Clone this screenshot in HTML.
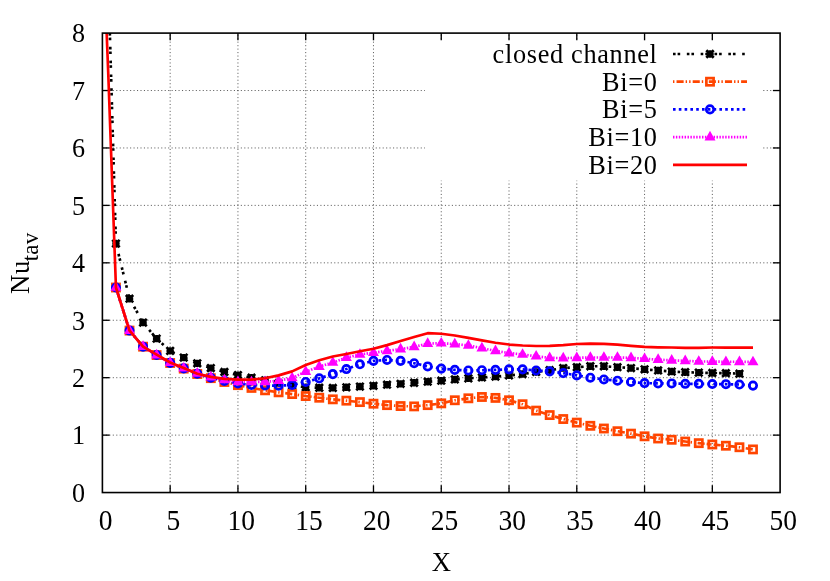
<!DOCTYPE html>
<html><head><meta charset="utf-8"><title>Nu tav vs X</title>
<style>html,body{margin:0;padding:0;background:#fff;}svg{display:block;will-change:transform;}</style>
</head><body>
<svg width="830" height="581" viewBox="0 0 830 581">
<rect width="830" height="581" fill="#fff"/>
<g stroke="#000" stroke-opacity="0.62" stroke-width="1" stroke-dasharray="1.1 2.36" fill="none">
<line x1="170.17" y1="492.55" x2="170.17" y2="33.10"/>
<line x1="237.94" y1="492.55" x2="237.94" y2="33.10"/>
<line x1="305.71" y1="492.55" x2="305.71" y2="33.10"/>
<line x1="373.48" y1="492.55" x2="373.48" y2="33.10"/>
<line x1="441.25" y1="492.55" x2="441.25" y2="33.10"/>
<line x1="509.02" y1="492.55" x2="509.02" y2="33.10"/>
<line x1="576.79" y1="492.55" x2="576.79" y2="33.10"/>
<line x1="644.56" y1="492.55" x2="644.56" y2="33.10"/>
<line x1="712.33" y1="492.55" x2="712.33" y2="33.10"/>
<line x1="102.40" y1="435.12" x2="780.10" y2="435.12"/>
<line x1="102.40" y1="377.69" x2="780.10" y2="377.69"/>
<line x1="102.40" y1="320.26" x2="780.10" y2="320.26"/>
<line x1="102.40" y1="262.83" x2="780.10" y2="262.83"/>
<line x1="102.40" y1="205.39" x2="780.10" y2="205.39"/>
<line x1="102.40" y1="147.96" x2="780.10" y2="147.96"/>
<line x1="102.40" y1="90.53" x2="780.10" y2="90.53"/>
</g>
<rect x="425" y="41" width="337.7" height="139.6" fill="#fff"/>
<g stroke="#000" stroke-width="1.33" fill="none">
<line x1="170.17" y1="492.55" x2="170.17" y2="485.35"/>
<line x1="170.17" y1="33.10" x2="170.17" y2="40.30"/>
<line x1="237.94" y1="492.55" x2="237.94" y2="485.35"/>
<line x1="237.94" y1="33.10" x2="237.94" y2="40.30"/>
<line x1="305.71" y1="492.55" x2="305.71" y2="485.35"/>
<line x1="305.71" y1="33.10" x2="305.71" y2="40.30"/>
<line x1="373.48" y1="492.55" x2="373.48" y2="485.35"/>
<line x1="373.48" y1="33.10" x2="373.48" y2="40.30"/>
<line x1="441.25" y1="492.55" x2="441.25" y2="485.35"/>
<line x1="441.25" y1="33.10" x2="441.25" y2="40.30"/>
<line x1="509.02" y1="492.55" x2="509.02" y2="485.35"/>
<line x1="509.02" y1="33.10" x2="509.02" y2="40.30"/>
<line x1="576.79" y1="492.55" x2="576.79" y2="485.35"/>
<line x1="576.79" y1="33.10" x2="576.79" y2="40.30"/>
<line x1="644.56" y1="492.55" x2="644.56" y2="485.35"/>
<line x1="644.56" y1="33.10" x2="644.56" y2="40.30"/>
<line x1="712.33" y1="492.55" x2="712.33" y2="485.35"/>
<line x1="712.33" y1="33.10" x2="712.33" y2="40.30"/>
<line x1="102.40" y1="435.12" x2="109.60" y2="435.12"/>
<line x1="780.10" y1="435.12" x2="772.90" y2="435.12"/>
<line x1="102.40" y1="377.69" x2="109.60" y2="377.69"/>
<line x1="780.10" y1="377.69" x2="772.90" y2="377.69"/>
<line x1="102.40" y1="320.26" x2="109.60" y2="320.26"/>
<line x1="780.10" y1="320.26" x2="772.90" y2="320.26"/>
<line x1="102.40" y1="262.83" x2="109.60" y2="262.83"/>
<line x1="780.10" y1="262.83" x2="772.90" y2="262.83"/>
<line x1="102.40" y1="205.39" x2="109.60" y2="205.39"/>
<line x1="780.10" y1="205.39" x2="772.90" y2="205.39"/>
<line x1="102.40" y1="147.96" x2="109.60" y2="147.96"/>
<line x1="780.10" y1="147.96" x2="772.90" y2="147.96"/>
<line x1="102.40" y1="90.53" x2="109.60" y2="90.53"/>
<line x1="780.10" y1="90.53" x2="772.90" y2="90.53"/>
</g>
<defs><clipPath id="c"><rect x="102.40" y="33.10" width="677.70" height="459.45"/></clipPath></defs>
<g clip-path="url(#c)"><polyline points="108.10,-26.90 115.95,243.53 129.51,298.72 143.06,322.55 156.62,338.63 170.17,350.87 183.72,357.59 197.28,363.33 210.83,368.10 224.39,371.94 237.94,375.10 251.49,377.69 265.05,380.27 278.60,383.14 292.16,385.44 305.71,387.28 319.26,387.74 332.82,387.91 346.37,387.28 359.93,386.53 373.48,385.79 387.03,384.69 400.59,383.83 414.14,382.74 427.70,381.71 441.25,380.73 454.80,379.47 468.36,378.38 481.91,377.46 495.47,376.54 509.02,375.39 522.57,374.07 536.13,371.94 549.68,370.22 563.24,368.10 576.79,367.18 590.34,366.26 603.90,366.26 617.45,367.18 631.01,368.10 644.56,369.36 658.11,370.45 671.67,371.54 685.22,372.23 698.78,372.63 712.33,372.98 725.88,373.15 739.44,373.67" fill="none" stroke="#000" stroke-width="2.67" stroke-dasharray="2.6 2.0 2.6 6.633" stroke-dashoffset="9.24" stroke-linejoin="round"/><path d="M112.25,243.53H119.65M115.95,239.83V247.23M112.25,239.83L119.65,247.23M112.25,247.23L119.65,239.83" stroke="#000" stroke-width="2.67" fill="none"/><path d="M125.81,298.72H133.21M129.51,295.02V302.42M125.81,295.02L133.21,302.42M125.81,302.42L133.21,295.02" stroke="#000" stroke-width="2.67" fill="none"/><path d="M139.36,322.55H146.76M143.06,318.85V326.25M139.36,318.85L146.76,326.25M139.36,326.25L146.76,318.85" stroke="#000" stroke-width="2.67" fill="none"/><path d="M152.92,338.63H160.32M156.62,334.93V342.33M152.92,334.93L160.32,342.33M152.92,342.33L160.32,334.93" stroke="#000" stroke-width="2.67" fill="none"/><path d="M166.47,350.87H173.87M170.17,347.17V354.57M166.47,347.17L173.87,354.57M166.47,354.57L173.87,347.17" stroke="#000" stroke-width="2.67" fill="none"/><path d="M180.02,357.59H187.42M183.72,353.89V361.29M180.02,353.89L187.42,361.29M180.02,361.29L187.42,353.89" stroke="#000" stroke-width="2.67" fill="none"/><path d="M193.58,363.33H200.98M197.28,359.63V367.03M193.58,359.63L200.98,367.03M193.58,367.03L200.98,359.63" stroke="#000" stroke-width="2.67" fill="none"/><path d="M207.13,368.10H214.53M210.83,364.40V371.80M207.13,364.40L214.53,371.80M207.13,371.80L214.53,364.40" stroke="#000" stroke-width="2.67" fill="none"/><path d="M220.69,371.94H228.09M224.39,368.24V375.64M220.69,368.24L228.09,375.64M220.69,375.64L228.09,368.24" stroke="#000" stroke-width="2.67" fill="none"/><path d="M234.24,375.10H241.64M237.94,371.40V378.80M234.24,371.40L241.64,378.80M234.24,378.80L241.64,371.40" stroke="#000" stroke-width="2.67" fill="none"/><path d="M247.79,377.69H255.19M251.49,373.99V381.39M247.79,373.99L255.19,381.39M247.79,381.39L255.19,373.99" stroke="#000" stroke-width="2.67" fill="none"/><path d="M261.35,380.27H268.75M265.05,376.57V383.97M261.35,376.57L268.75,383.97M261.35,383.97L268.75,376.57" stroke="#000" stroke-width="2.67" fill="none"/><path d="M274.90,383.14H282.30M278.60,379.44V386.84M274.90,379.44L282.30,386.84M274.90,386.84L282.30,379.44" stroke="#000" stroke-width="2.67" fill="none"/><path d="M288.46,385.44H295.86M292.16,381.74V389.14M288.46,381.74L295.86,389.14M288.46,389.14L295.86,381.74" stroke="#000" stroke-width="2.67" fill="none"/><path d="M302.01,387.28H309.41M305.71,383.58V390.98M302.01,383.58L309.41,390.98M302.01,390.98L309.41,383.58" stroke="#000" stroke-width="2.67" fill="none"/><path d="M315.56,387.74H322.96M319.26,384.04V391.44M315.56,384.04L322.96,391.44M315.56,391.44L322.96,384.04" stroke="#000" stroke-width="2.67" fill="none"/><path d="M329.12,387.91H336.52M332.82,384.21V391.61M329.12,384.21L336.52,391.61M329.12,391.61L336.52,384.21" stroke="#000" stroke-width="2.67" fill="none"/><path d="M342.67,387.28H350.07M346.37,383.58V390.98M342.67,383.58L350.07,390.98M342.67,390.98L350.07,383.58" stroke="#000" stroke-width="2.67" fill="none"/><path d="M356.23,386.53H363.63M359.93,382.83V390.23M356.23,382.83L363.63,390.23M356.23,390.23L363.63,382.83" stroke="#000" stroke-width="2.67" fill="none"/><path d="M369.78,385.79H377.18M373.48,382.09V389.49M369.78,382.09L377.18,389.49M369.78,389.49L377.18,382.09" stroke="#000" stroke-width="2.67" fill="none"/><path d="M383.33,384.69H390.73M387.03,380.99V388.39M383.33,380.99L390.73,388.39M383.33,388.39L390.73,380.99" stroke="#000" stroke-width="2.67" fill="none"/><path d="M396.89,383.83H404.29M400.59,380.13V387.53M396.89,380.13L404.29,387.53M396.89,387.53L404.29,380.13" stroke="#000" stroke-width="2.67" fill="none"/><path d="M410.44,382.74H417.84M414.14,379.04V386.44M410.44,379.04L417.84,386.44M410.44,386.44L417.84,379.04" stroke="#000" stroke-width="2.67" fill="none"/><path d="M424.00,381.71H431.40M427.70,378.01V385.41M424.00,378.01L431.40,385.41M424.00,385.41L431.40,378.01" stroke="#000" stroke-width="2.67" fill="none"/><path d="M437.55,380.73H444.95M441.25,377.03V384.43M437.55,377.03L444.95,384.43M437.55,384.43L444.95,377.03" stroke="#000" stroke-width="2.67" fill="none"/><path d="M451.10,379.47H458.50M454.80,375.77V383.17M451.10,375.77L458.50,383.17M451.10,383.17L458.50,375.77" stroke="#000" stroke-width="2.67" fill="none"/><path d="M464.66,378.38H472.06M468.36,374.68V382.08M464.66,374.68L472.06,382.08M464.66,382.08L472.06,374.68" stroke="#000" stroke-width="2.67" fill="none"/><path d="M478.21,377.46H485.61M481.91,373.76V381.16M478.21,373.76L485.61,381.16M478.21,381.16L485.61,373.76" stroke="#000" stroke-width="2.67" fill="none"/><path d="M491.77,376.54H499.17M495.47,372.84V380.24M491.77,372.84L499.17,380.24M491.77,380.24L499.17,372.84" stroke="#000" stroke-width="2.67" fill="none"/><path d="M505.32,375.39H512.72M509.02,371.69V379.09M505.32,371.69L512.72,379.09M505.32,379.09L512.72,371.69" stroke="#000" stroke-width="2.67" fill="none"/><path d="M518.87,374.07H526.27M522.57,370.37V377.77M518.87,370.37L526.27,377.77M518.87,377.77L526.27,370.37" stroke="#000" stroke-width="2.67" fill="none"/><path d="M532.43,371.94H539.83M536.13,368.24V375.64M532.43,368.24L539.83,375.64M532.43,375.64L539.83,368.24" stroke="#000" stroke-width="2.67" fill="none"/><path d="M545.98,370.22H553.38M549.68,366.52V373.92M545.98,366.52L553.38,373.92M545.98,373.92L553.38,366.52" stroke="#000" stroke-width="2.67" fill="none"/><path d="M559.54,368.10H566.94M563.24,364.40V371.80M559.54,364.40L566.94,371.80M559.54,371.80L566.94,364.40" stroke="#000" stroke-width="2.67" fill="none"/><path d="M573.09,367.18H580.49M576.79,363.48V370.88M573.09,363.48L580.49,370.88M573.09,370.88L580.49,363.48" stroke="#000" stroke-width="2.67" fill="none"/><path d="M586.64,366.26H594.04M590.34,362.56V369.96M586.64,362.56L594.04,369.96M586.64,369.96L594.04,362.56" stroke="#000" stroke-width="2.67" fill="none"/><path d="M600.20,366.26H607.60M603.90,362.56V369.96M600.20,362.56L607.60,369.96M600.20,369.96L607.60,362.56" stroke="#000" stroke-width="2.67" fill="none"/><path d="M613.75,367.18H621.15M617.45,363.48V370.88M613.75,363.48L621.15,370.88M613.75,370.88L621.15,363.48" stroke="#000" stroke-width="2.67" fill="none"/><path d="M627.31,368.10H634.71M631.01,364.40V371.80M627.31,364.40L634.71,371.80M627.31,371.80L634.71,364.40" stroke="#000" stroke-width="2.67" fill="none"/><path d="M640.86,369.36H648.26M644.56,365.66V373.06M640.86,365.66L648.26,373.06M640.86,373.06L648.26,365.66" stroke="#000" stroke-width="2.67" fill="none"/><path d="M654.41,370.45H661.81M658.11,366.75V374.15M654.41,366.75L661.81,374.15M654.41,374.15L661.81,366.75" stroke="#000" stroke-width="2.67" fill="none"/><path d="M667.97,371.54H675.37M671.67,367.84V375.24M667.97,367.84L675.37,375.24M667.97,375.24L675.37,367.84" stroke="#000" stroke-width="2.67" fill="none"/><path d="M681.52,372.23H688.92M685.22,368.53V375.93M681.52,368.53L688.92,375.93M681.52,375.93L688.92,368.53" stroke="#000" stroke-width="2.67" fill="none"/><path d="M695.08,372.63H702.48M698.78,368.93V376.33M695.08,368.93L702.48,376.33M695.08,376.33L702.48,368.93" stroke="#000" stroke-width="2.67" fill="none"/><path d="M708.63,372.98H716.03M712.33,369.28V376.68M708.63,369.28L716.03,376.68M708.63,376.68L716.03,369.28" stroke="#000" stroke-width="2.67" fill="none"/><path d="M722.18,373.15H729.58M725.88,369.45V376.85M722.18,369.45L729.58,376.85M722.18,376.85L729.58,369.45" stroke="#000" stroke-width="2.67" fill="none"/><path d="M735.74,373.67H743.14M739.44,369.97V377.37M735.74,369.97L743.14,377.37M735.74,377.37L743.14,369.97" stroke="#000" stroke-width="2.67" fill="none"/></g>
<g clip-path="url(#c)"><polyline points="115.95,287.52 129.51,330.59 143.06,346.67 156.62,355.06 170.17,362.99 183.72,368.61 197.28,374.01 210.83,378.15 224.39,381.99 237.94,385.15 251.49,387.91 265.05,390.32 278.60,392.33 292.16,394.06 305.71,396.07 319.26,397.73 332.82,399.34 346.37,400.66 359.93,402.10 373.48,403.70 387.03,405.14 400.59,406.06 414.14,406.40 427.70,405.14 441.25,403.36 454.80,400.26 468.36,398.31 481.91,396.98 495.47,397.90 509.02,400.26 522.57,404.22 536.13,410.60 549.68,415.08 563.24,419.04 576.79,422.60 590.34,425.81 603.90,428.51 617.45,431.21 631.01,433.63 644.56,436.32 658.11,438.51 671.67,439.77 685.22,441.55 698.78,443.16 712.33,444.48 725.88,445.74 739.44,447.24 752.99,449.42" fill="none" stroke="#ff4500" stroke-width="2.67" stroke-dasharray="7.1 2.0 1.4 2.1 1.4 2.14" stroke-dashoffset="8.72" stroke-linejoin="round"/><rect x="112.35" y="283.92" width="7.20" height="7.20" stroke="#ff4500" stroke-width="2.67" fill="none"/><rect x="125.91" y="326.99" width="7.20" height="7.20" stroke="#ff4500" stroke-width="2.67" fill="none"/><rect x="139.46" y="343.07" width="7.20" height="7.20" stroke="#ff4500" stroke-width="2.67" fill="none"/><rect x="153.02" y="351.46" width="7.20" height="7.20" stroke="#ff4500" stroke-width="2.67" fill="none"/><rect x="166.57" y="359.39" width="7.20" height="7.20" stroke="#ff4500" stroke-width="2.67" fill="none"/><rect x="180.12" y="365.01" width="7.20" height="7.20" stroke="#ff4500" stroke-width="2.67" fill="none"/><rect x="193.68" y="370.41" width="7.20" height="7.20" stroke="#ff4500" stroke-width="2.67" fill="none"/><rect x="207.23" y="374.55" width="7.20" height="7.20" stroke="#ff4500" stroke-width="2.67" fill="none"/><rect x="220.79" y="378.39" width="7.20" height="7.20" stroke="#ff4500" stroke-width="2.67" fill="none"/><rect x="234.34" y="381.55" width="7.20" height="7.20" stroke="#ff4500" stroke-width="2.67" fill="none"/><rect x="247.89" y="384.31" width="7.20" height="7.20" stroke="#ff4500" stroke-width="2.67" fill="none"/><rect x="261.45" y="386.72" width="7.20" height="7.20" stroke="#ff4500" stroke-width="2.67" fill="none"/><rect x="275.00" y="388.73" width="7.20" height="7.20" stroke="#ff4500" stroke-width="2.67" fill="none"/><rect x="288.56" y="390.46" width="7.20" height="7.20" stroke="#ff4500" stroke-width="2.67" fill="none"/><rect x="302.11" y="392.47" width="7.20" height="7.20" stroke="#ff4500" stroke-width="2.67" fill="none"/><rect x="315.66" y="394.13" width="7.20" height="7.20" stroke="#ff4500" stroke-width="2.67" fill="none"/><rect x="329.22" y="395.74" width="7.20" height="7.20" stroke="#ff4500" stroke-width="2.67" fill="none"/><rect x="342.77" y="397.06" width="7.20" height="7.20" stroke="#ff4500" stroke-width="2.67" fill="none"/><rect x="356.33" y="398.50" width="7.20" height="7.20" stroke="#ff4500" stroke-width="2.67" fill="none"/><rect x="369.88" y="400.10" width="7.20" height="7.20" stroke="#ff4500" stroke-width="2.67" fill="none"/><rect x="383.43" y="401.54" width="7.20" height="7.20" stroke="#ff4500" stroke-width="2.67" fill="none"/><rect x="396.99" y="402.46" width="7.20" height="7.20" stroke="#ff4500" stroke-width="2.67" fill="none"/><rect x="410.54" y="402.80" width="7.20" height="7.20" stroke="#ff4500" stroke-width="2.67" fill="none"/><rect x="424.10" y="401.54" width="7.20" height="7.20" stroke="#ff4500" stroke-width="2.67" fill="none"/><rect x="437.65" y="399.76" width="7.20" height="7.20" stroke="#ff4500" stroke-width="2.67" fill="none"/><rect x="451.20" y="396.66" width="7.20" height="7.20" stroke="#ff4500" stroke-width="2.67" fill="none"/><rect x="464.76" y="394.71" width="7.20" height="7.20" stroke="#ff4500" stroke-width="2.67" fill="none"/><rect x="478.31" y="393.38" width="7.20" height="7.20" stroke="#ff4500" stroke-width="2.67" fill="none"/><rect x="491.87" y="394.30" width="7.20" height="7.20" stroke="#ff4500" stroke-width="2.67" fill="none"/><rect x="505.42" y="396.66" width="7.20" height="7.20" stroke="#ff4500" stroke-width="2.67" fill="none"/><rect x="518.97" y="400.62" width="7.20" height="7.20" stroke="#ff4500" stroke-width="2.67" fill="none"/><rect x="532.53" y="407.00" width="7.20" height="7.20" stroke="#ff4500" stroke-width="2.67" fill="none"/><rect x="546.08" y="411.48" width="7.20" height="7.20" stroke="#ff4500" stroke-width="2.67" fill="none"/><rect x="559.64" y="415.44" width="7.20" height="7.20" stroke="#ff4500" stroke-width="2.67" fill="none"/><rect x="573.19" y="419.00" width="7.20" height="7.20" stroke="#ff4500" stroke-width="2.67" fill="none"/><rect x="586.74" y="422.21" width="7.20" height="7.20" stroke="#ff4500" stroke-width="2.67" fill="none"/><rect x="600.30" y="424.91" width="7.20" height="7.20" stroke="#ff4500" stroke-width="2.67" fill="none"/><rect x="613.85" y="427.61" width="7.20" height="7.20" stroke="#ff4500" stroke-width="2.67" fill="none"/><rect x="627.41" y="430.03" width="7.20" height="7.20" stroke="#ff4500" stroke-width="2.67" fill="none"/><rect x="640.96" y="432.72" width="7.20" height="7.20" stroke="#ff4500" stroke-width="2.67" fill="none"/><rect x="654.51" y="434.91" width="7.20" height="7.20" stroke="#ff4500" stroke-width="2.67" fill="none"/><rect x="668.07" y="436.17" width="7.20" height="7.20" stroke="#ff4500" stroke-width="2.67" fill="none"/><rect x="681.62" y="437.95" width="7.20" height="7.20" stroke="#ff4500" stroke-width="2.67" fill="none"/><rect x="695.18" y="439.56" width="7.20" height="7.20" stroke="#ff4500" stroke-width="2.67" fill="none"/><rect x="708.73" y="440.88" width="7.20" height="7.20" stroke="#ff4500" stroke-width="2.67" fill="none"/><rect x="722.28" y="442.14" width="7.20" height="7.20" stroke="#ff4500" stroke-width="2.67" fill="none"/><rect x="735.84" y="443.64" width="7.20" height="7.20" stroke="#ff4500" stroke-width="2.67" fill="none"/><rect x="749.39" y="445.82" width="7.20" height="7.20" stroke="#ff4500" stroke-width="2.67" fill="none"/></g>
<g clip-path="url(#c)"><polyline points="115.95,287.52 129.51,330.59 143.06,346.67 156.62,355.06 170.17,362.87 183.72,368.38 197.28,373.67 210.83,377.69 224.39,380.90 237.94,383.49 251.49,384.87 265.05,385.50 278.60,385.67 292.16,385.04 305.71,381.99 319.26,378.38 332.82,374.13 346.37,369.07 359.93,364.31 373.48,360.86 387.03,359.94 400.59,360.86 414.14,363.21 427.70,366.43 441.25,368.61 454.80,369.88 468.36,370.45 481.91,370.22 495.47,369.88 509.02,369.36 522.57,369.36 536.13,370.45 549.68,371.37 563.24,373.09 576.79,375.39 590.34,377.69 603.90,379.47 617.45,380.73 631.01,381.99 644.56,383.09 658.11,383.43 671.67,383.43 685.22,383.83 698.78,383.83 712.33,384.00 725.88,384.18 739.44,384.52 752.99,385.61" fill="none" stroke="#0000ff" stroke-width="2.67" stroke-dasharray="2.6 3.2" stroke-linejoin="round"/><circle cx="115.95" cy="287.52" r="3.7" stroke="#0000ff" stroke-width="2.67" fill="none"/><circle cx="129.51" cy="330.59" r="3.7" stroke="#0000ff" stroke-width="2.67" fill="none"/><circle cx="143.06" cy="346.67" r="3.7" stroke="#0000ff" stroke-width="2.67" fill="none"/><circle cx="156.62" cy="355.06" r="3.7" stroke="#0000ff" stroke-width="2.67" fill="none"/><circle cx="170.17" cy="362.87" r="3.7" stroke="#0000ff" stroke-width="2.67" fill="none"/><circle cx="183.72" cy="368.38" r="3.7" stroke="#0000ff" stroke-width="2.67" fill="none"/><circle cx="197.28" cy="373.67" r="3.7" stroke="#0000ff" stroke-width="2.67" fill="none"/><circle cx="210.83" cy="377.69" r="3.7" stroke="#0000ff" stroke-width="2.67" fill="none"/><circle cx="224.39" cy="380.90" r="3.7" stroke="#0000ff" stroke-width="2.67" fill="none"/><circle cx="237.94" cy="383.49" r="3.7" stroke="#0000ff" stroke-width="2.67" fill="none"/><circle cx="251.49" cy="384.87" r="3.7" stroke="#0000ff" stroke-width="2.67" fill="none"/><circle cx="265.05" cy="385.50" r="3.7" stroke="#0000ff" stroke-width="2.67" fill="none"/><circle cx="278.60" cy="385.67" r="3.7" stroke="#0000ff" stroke-width="2.67" fill="none"/><circle cx="292.16" cy="385.04" r="3.7" stroke="#0000ff" stroke-width="2.67" fill="none"/><circle cx="305.71" cy="381.99" r="3.7" stroke="#0000ff" stroke-width="2.67" fill="none"/><circle cx="319.26" cy="378.38" r="3.7" stroke="#0000ff" stroke-width="2.67" fill="none"/><circle cx="332.82" cy="374.13" r="3.7" stroke="#0000ff" stroke-width="2.67" fill="none"/><circle cx="346.37" cy="369.07" r="3.7" stroke="#0000ff" stroke-width="2.67" fill="none"/><circle cx="359.93" cy="364.31" r="3.7" stroke="#0000ff" stroke-width="2.67" fill="none"/><circle cx="373.48" cy="360.86" r="3.7" stroke="#0000ff" stroke-width="2.67" fill="none"/><circle cx="387.03" cy="359.94" r="3.7" stroke="#0000ff" stroke-width="2.67" fill="none"/><circle cx="400.59" cy="360.86" r="3.7" stroke="#0000ff" stroke-width="2.67" fill="none"/><circle cx="414.14" cy="363.21" r="3.7" stroke="#0000ff" stroke-width="2.67" fill="none"/><circle cx="427.70" cy="366.43" r="3.7" stroke="#0000ff" stroke-width="2.67" fill="none"/><circle cx="441.25" cy="368.61" r="3.7" stroke="#0000ff" stroke-width="2.67" fill="none"/><circle cx="454.80" cy="369.88" r="3.7" stroke="#0000ff" stroke-width="2.67" fill="none"/><circle cx="468.36" cy="370.45" r="3.7" stroke="#0000ff" stroke-width="2.67" fill="none"/><circle cx="481.91" cy="370.22" r="3.7" stroke="#0000ff" stroke-width="2.67" fill="none"/><circle cx="495.47" cy="369.88" r="3.7" stroke="#0000ff" stroke-width="2.67" fill="none"/><circle cx="509.02" cy="369.36" r="3.7" stroke="#0000ff" stroke-width="2.67" fill="none"/><circle cx="522.57" cy="369.36" r="3.7" stroke="#0000ff" stroke-width="2.67" fill="none"/><circle cx="536.13" cy="370.45" r="3.7" stroke="#0000ff" stroke-width="2.67" fill="none"/><circle cx="549.68" cy="371.37" r="3.7" stroke="#0000ff" stroke-width="2.67" fill="none"/><circle cx="563.24" cy="373.09" r="3.7" stroke="#0000ff" stroke-width="2.67" fill="none"/><circle cx="576.79" cy="375.39" r="3.7" stroke="#0000ff" stroke-width="2.67" fill="none"/><circle cx="590.34" cy="377.69" r="3.7" stroke="#0000ff" stroke-width="2.67" fill="none"/><circle cx="603.90" cy="379.47" r="3.7" stroke="#0000ff" stroke-width="2.67" fill="none"/><circle cx="617.45" cy="380.73" r="3.7" stroke="#0000ff" stroke-width="2.67" fill="none"/><circle cx="631.01" cy="381.99" r="3.7" stroke="#0000ff" stroke-width="2.67" fill="none"/><circle cx="644.56" cy="383.09" r="3.7" stroke="#0000ff" stroke-width="2.67" fill="none"/><circle cx="658.11" cy="383.43" r="3.7" stroke="#0000ff" stroke-width="2.67" fill="none"/><circle cx="671.67" cy="383.43" r="3.7" stroke="#0000ff" stroke-width="2.67" fill="none"/><circle cx="685.22" cy="383.83" r="3.7" stroke="#0000ff" stroke-width="2.67" fill="none"/><circle cx="698.78" cy="383.83" r="3.7" stroke="#0000ff" stroke-width="2.67" fill="none"/><circle cx="712.33" cy="384.00" r="3.7" stroke="#0000ff" stroke-width="2.67" fill="none"/><circle cx="725.88" cy="384.18" r="3.7" stroke="#0000ff" stroke-width="2.67" fill="none"/><circle cx="739.44" cy="384.52" r="3.7" stroke="#0000ff" stroke-width="2.67" fill="none"/><circle cx="752.99" cy="385.61" r="3.7" stroke="#0000ff" stroke-width="2.67" fill="none"/></g>
<g clip-path="url(#c)"><polyline points="115.95,287.52 129.51,330.59 143.06,346.67 156.62,355.06 170.17,362.76 183.72,368.21 197.28,373.38 210.83,377.11 224.39,379.98 237.94,381.88 251.49,381.99 265.05,381.88 278.60,380.73 292.16,377.97 305.71,371.66 319.26,366.66 332.82,362.47 346.37,357.59 359.93,354.49 373.48,352.70 387.03,350.87 400.59,349.09 414.14,346.90 427.70,343.63 441.25,343.23 454.80,344.03 468.36,345.47 481.91,348.17 495.47,350.87 509.02,353.05 522.57,354.49 536.13,356.27 549.68,357.82 563.24,358.16 576.79,357.82 590.34,357.47 603.90,357.47 617.45,357.47 631.01,357.82 644.56,358.74 658.11,359.65 671.67,360.34 685.22,360.86 698.78,361.43 712.33,361.61 725.88,361.78 739.44,361.78 752.99,361.95" fill="none" stroke="#ff00ff" stroke-width="2.67" stroke-dasharray="1.45 1.45" stroke-linejoin="round"/><path d="M115.95,281.22L121.45,290.87H110.45Z" fill="#ff00ff"/><path d="M129.51,324.29L135.01,333.94H124.01Z" fill="#ff00ff"/><path d="M143.06,340.37L148.56,350.02H137.56Z" fill="#ff00ff"/><path d="M156.62,348.76L162.12,358.41H151.12Z" fill="#ff00ff"/><path d="M170.17,356.46L175.67,366.11H164.67Z" fill="#ff00ff"/><path d="M183.72,361.91L189.22,371.56H178.22Z" fill="#ff00ff"/><path d="M197.28,367.08L202.78,376.73H191.78Z" fill="#ff00ff"/><path d="M210.83,370.81L216.33,380.46H205.33Z" fill="#ff00ff"/><path d="M224.39,373.68L229.89,383.33H218.89Z" fill="#ff00ff"/><path d="M237.94,375.58L243.44,385.23H232.44Z" fill="#ff00ff"/><path d="M251.49,375.69L256.99,385.34H245.99Z" fill="#ff00ff"/><path d="M265.05,375.58L270.55,385.23H259.55Z" fill="#ff00ff"/><path d="M278.60,374.43L284.10,384.08H273.10Z" fill="#ff00ff"/><path d="M292.16,371.67L297.66,381.32H286.66Z" fill="#ff00ff"/><path d="M305.71,365.36L311.21,375.01H300.21Z" fill="#ff00ff"/><path d="M319.26,360.36L324.76,370.01H313.76Z" fill="#ff00ff"/><path d="M332.82,356.17L338.32,365.82H327.32Z" fill="#ff00ff"/><path d="M346.37,351.29L351.87,360.94H340.87Z" fill="#ff00ff"/><path d="M359.93,348.19L365.43,357.84H354.43Z" fill="#ff00ff"/><path d="M373.48,346.40L378.98,356.05H367.98Z" fill="#ff00ff"/><path d="M387.03,344.57L392.53,354.22H381.53Z" fill="#ff00ff"/><path d="M400.59,342.79L406.09,352.44H395.09Z" fill="#ff00ff"/><path d="M414.14,340.60L419.64,350.25H408.64Z" fill="#ff00ff"/><path d="M427.70,337.33L433.20,346.98H422.20Z" fill="#ff00ff"/><path d="M441.25,336.93L446.75,346.58H435.75Z" fill="#ff00ff"/><path d="M454.80,337.73L460.30,347.38H449.30Z" fill="#ff00ff"/><path d="M468.36,339.17L473.86,348.82H462.86Z" fill="#ff00ff"/><path d="M481.91,341.87L487.41,351.52H476.41Z" fill="#ff00ff"/><path d="M495.47,344.57L500.97,354.22H489.97Z" fill="#ff00ff"/><path d="M509.02,346.75L514.52,356.40H503.52Z" fill="#ff00ff"/><path d="M522.57,348.19L528.07,357.84H517.07Z" fill="#ff00ff"/><path d="M536.13,349.97L541.63,359.62H530.63Z" fill="#ff00ff"/><path d="M549.68,351.52L555.18,361.17H544.18Z" fill="#ff00ff"/><path d="M563.24,351.86L568.74,361.51H557.74Z" fill="#ff00ff"/><path d="M576.79,351.52L582.29,361.17H571.29Z" fill="#ff00ff"/><path d="M590.34,351.17L595.84,360.82H584.84Z" fill="#ff00ff"/><path d="M603.90,351.17L609.40,360.82H598.40Z" fill="#ff00ff"/><path d="M617.45,351.17L622.95,360.82H611.95Z" fill="#ff00ff"/><path d="M631.01,351.52L636.51,361.17H625.51Z" fill="#ff00ff"/><path d="M644.56,352.44L650.06,362.09H639.06Z" fill="#ff00ff"/><path d="M658.11,353.35L663.61,363.00H652.61Z" fill="#ff00ff"/><path d="M671.67,354.04L677.17,363.69H666.17Z" fill="#ff00ff"/><path d="M685.22,354.56L690.72,364.21H679.72Z" fill="#ff00ff"/><path d="M698.78,355.13L704.28,364.78H693.28Z" fill="#ff00ff"/><path d="M712.33,355.31L717.83,364.96H706.83Z" fill="#ff00ff"/><path d="M725.88,355.48L731.38,365.13H720.38Z" fill="#ff00ff"/><path d="M739.44,355.48L744.94,365.13H733.94Z" fill="#ff00ff"/><path d="M752.99,355.65L758.49,365.30H747.49Z" fill="#ff00ff"/></g>
<g clip-path="url(#c)"><polyline points="104.29,-26.90 108.20,72.00 115.95,287.52 129.51,330.59 143.06,346.67 156.62,354.72 170.17,362.47 183.72,367.92 197.28,373.78 210.83,376.83 224.39,378.84 237.94,379.64 251.49,379.64 265.05,378.26 278.60,375.39 292.16,371.37 305.71,364.94 319.26,360.17 332.82,356.55 346.37,353.97 359.93,351.27 373.48,348.74 387.03,345.12 400.59,340.93 414.14,336.97 427.70,333.18 441.25,333.75 454.80,335.53 468.36,337.89 481.91,340.36 495.47,342.77 509.02,344.55 522.57,345.47 536.13,345.99 549.68,345.87 563.24,345.12 576.79,344.03 590.34,343.69 603.90,343.80 617.45,344.55 631.01,345.87 644.56,346.90 658.11,347.31 671.67,347.54 685.22,347.82 698.78,347.82 712.33,347.54 725.88,347.54 739.44,347.65 752.99,347.65" fill="none" stroke="#ff0000" stroke-width="2.67" stroke-linejoin="round"/></g>
<rect x="102.40" y="33.10" width="677.70" height="459.45" fill="none" stroke="#000" stroke-width="1.6"/>
<g font-family="'Liberation Serif', serif" font-size="26.3" letter-spacing="0.68" fill="#000">
<text x="657.6" y="62.90" text-anchor="end">closed channel</text>
<text x="657.6" y="90.60" text-anchor="end">Bi=0</text>
<text x="657.6" y="118.30" text-anchor="end">Bi=5</text>
<text x="657.6" y="146.00" text-anchor="end">Bi=10</text>
<text x="657.6" y="173.70" text-anchor="end">Bi=20</text>
</g>
<line x1="673" y1="54.00" x2="746" y2="54.00" stroke="#000" stroke-width="2.67" stroke-dasharray="2.6 2.0 2.6 6.633"/>
<path d="M706.30,54.00H713.70M710.00,50.30V57.70M706.30,50.30L713.70,57.70M706.30,57.70L713.70,50.30" stroke="#000" stroke-width="2.67" fill="none"/>
<line x1="673" y1="81.70" x2="747" y2="81.70" stroke="#ff4500" stroke-width="2.67" stroke-dasharray="7.1 2.0 1.4 2.1 1.4 2.14" stroke-dashoffset="12.6"/>
<rect x="706.40" y="78.10" width="7.20" height="7.20" stroke="#ff4500" stroke-width="2.67" fill="none"/>
<line x1="673" y1="109.40" x2="747" y2="109.40" stroke="#0000ff" stroke-width="2.67" stroke-dasharray="2.6 3.2"/>
<circle cx="710.00" cy="109.40" r="3.7" stroke="#0000ff" stroke-width="2.67" fill="none"/>
<line x1="673" y1="137.10" x2="747" y2="137.10" stroke="#ff00ff" stroke-width="2.67" stroke-dasharray="1.45 1.45"/>
<path d="M710.00,130.80L715.50,140.45H704.50Z" fill="#ff00ff"/>
<line x1="673" y1="164.80" x2="747" y2="164.80" stroke="#ff0000" stroke-width="2.67"/>
<g font-family="'Liberation Serif', serif" font-size="26.67" fill="#000">
<text transform="translate(105.60,529.9) scale(1,1.035)" font-size="27.5" text-anchor="middle">0</text>
<text transform="translate(173.37,529.9) scale(1,1.035)" font-size="27.5" text-anchor="middle">5</text>
<text transform="translate(241.14,529.9) scale(1,1.035)" font-size="27.5" text-anchor="middle">10</text>
<text transform="translate(308.91,529.9) scale(1,1.035)" font-size="27.5" text-anchor="middle">15</text>
<text transform="translate(376.68,529.9) scale(1,1.035)" font-size="27.5" text-anchor="middle">20</text>
<text transform="translate(444.45,529.9) scale(1,1.035)" font-size="27.5" text-anchor="middle">25</text>
<text transform="translate(512.22,529.9) scale(1,1.035)" font-size="27.5" text-anchor="middle">30</text>
<text transform="translate(579.99,529.9) scale(1,1.035)" font-size="27.5" text-anchor="middle">35</text>
<text transform="translate(647.76,529.9) scale(1,1.035)" font-size="27.5" text-anchor="middle">40</text>
<text transform="translate(715.53,529.9) scale(1,1.035)" font-size="27.5" text-anchor="middle">45</text>
<text transform="translate(783.30,529.9) scale(1,1.035)" font-size="27.5" text-anchor="middle">50</text>
<text transform="translate(85.1,501.85) scale(0.95,1.03)" font-size="27.5" text-anchor="end">0</text>
<text transform="translate(85.1,444.42) scale(0.95,1.03)" font-size="27.5" text-anchor="end">1</text>
<text transform="translate(85.1,386.99) scale(0.95,1.03)" font-size="27.5" text-anchor="end">2</text>
<text transform="translate(85.1,329.56) scale(0.95,1.03)" font-size="27.5" text-anchor="end">3</text>
<text transform="translate(85.1,272.13) scale(0.95,1.03)" font-size="27.5" text-anchor="end">4</text>
<text transform="translate(85.1,214.69) scale(0.95,1.03)" font-size="27.5" text-anchor="end">5</text>
<text transform="translate(85.1,157.26) scale(0.95,1.03)" font-size="27.5" text-anchor="end">6</text>
<text transform="translate(85.1,99.83) scale(0.95,1.03)" font-size="27.5" text-anchor="end">7</text>
<text transform="translate(85.1,42.40) scale(0.95,1.03)" font-size="27.5" text-anchor="end">8</text>
<text x="441.4" y="570.6" text-anchor="middle">X</text>
<text transform="translate(28.9,294.0) rotate(-90)" letter-spacing="0.8">Nu<tspan font-size="22.9" dx="-1.4" dy="9.3" letter-spacing="0.2">tav</tspan></text>
</g>
</svg>
</body></html>
